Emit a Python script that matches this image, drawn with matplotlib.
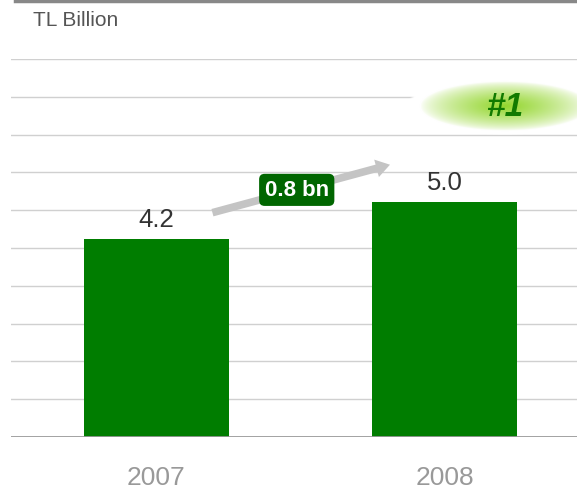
import numpy as np
import matplotlib
matplotlib.use("Agg")
import matplotlib.pyplot as plt

# data
years = ["2007", "2008"]
values = [4.2, 5.0]
change_label = "0.8 bn"
rank_label = "#1"
unit_label = "TL Billion"

fig = plt.figure(figsize=(5.77, 4.89), dpi=100)
ax = fig.add_axes([11 / 577, 1 - 438 / 489, 566 / 577, 378 / 489])

ymax = 8.03
x = np.arange(len(years))
ax.bar(x, values, width=0.503, color="#007d00", zorder=3)
ax.set_xlim(-0.505, 1.46)
ax.set_ylim(0, ymax)

# grid lines
for g in np.linspace(0, ymax, 11)[1:]:
    ax.axhline(g, color="#d0d0d0", lw=1, zorder=1)
ax.axhline(0, color="#999999", lw=2, zorder=4)

for s in ax.spines.values():
    s.set_visible(False)
ax.set_yticks([])
ax.set_xticks(x)
ax.set_xticklabels(years, color="#999999", fontsize=19, family="Liberation Sans")
ax.tick_params(axis="x", length=0, pad=20)

# value labels
for xi, v in zip(x, values):
    ax.text(xi, v + 0.17, f"{v:.1f}", ha="center", va="bottom", fontsize=18.5,
            color="#333333", family="Liberation Sans", zorder=5)

# arrow between bars
ax.annotate("", xy=(0.82, 5.8), xytext=(0.185, 4.75),
            arrowprops=dict(arrowstyle="simple,head_length=1.0,head_width=1.3,tail_width=0.55",
                            color="#c4c4c4", lw=0), zorder=4)
ax.text(0.487, 5.25, change_label, ha="center", va="center", fontsize=16,
        fontweight="bold", color="white", family="Liberation Sans", zorder=6,
        bbox=dict(boxstyle="round,pad=0.25,rounding_size=0.25", fc="#006600", ec="none"))

# "#1" glow
gx, gy = np.meshgrid(np.linspace(-1, 1, 200), np.linspace(-1, 1, 200))
r = np.sqrt(gx ** 2 + gy ** 2)
img = np.ones((200, 200, 4))
inner = np.clip(1 - r / 0.85, 0, 1) ** 0.7
img[..., 0] = 0.58 + 0.42 * (1 - inner)
img[..., 1] = 0.84 + 0.16 * (1 - inner)
img[..., 2] = 0.18 + 0.82 * (1 - inner)
img[..., 3] = np.clip((1 - r) * 25, 0, 1)
ax_g = fig.add_axes([405 / 577, 1 - 136 / 489, 200 / 577, 58 / 489])
ax_g.imshow(img, aspect="auto", interpolation="bilinear")
ax_g.axis("off")
ax_g.text(100, 100, rank_label, ha="center", va="center", fontsize=24, fontweight="bold",
          fontstyle="italic", color="#117a00", family="Liberation Sans")

# unit label and top line
fig.text(33 / 577, 1 - 21 / 489, unit_label, ha="left", va="center", fontsize=15,
         color="#555555", family="Liberation Sans")
fig.add_artist(plt.Line2D([15 / 577, 1], [1 - 1.5 / 489] * 2, color="#888888", lw=2.5))

fig.savefig("out.png", dpi=100, facecolor="white")
